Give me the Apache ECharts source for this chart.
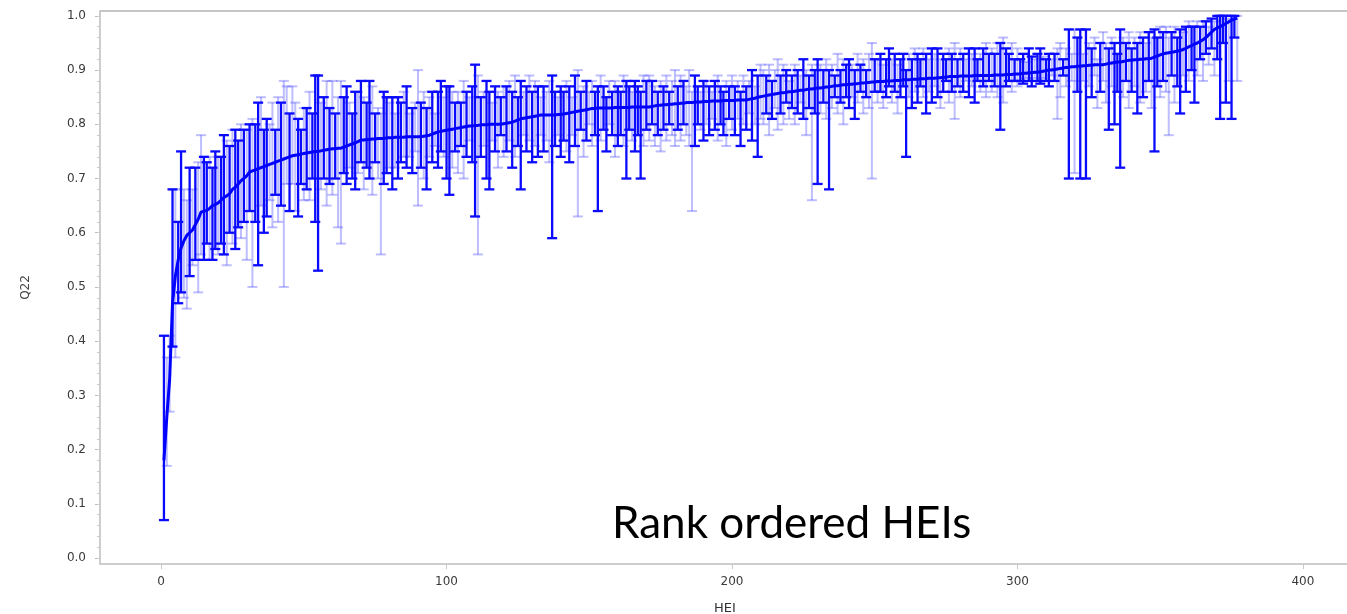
<!DOCTYPE html>
<html><head><meta charset="utf-8">
<script src="https://cdn.jsdelivr.net/npm/echarts@6/dist/echarts.min.js"></script>
<style>html,body{margin:0;padding:0;background:#fff}#c{width:1347px;height:614px}</style>
</head><body><div id="c"></div>
<script>
// Rank-ordered HEI mean scores (Q22) with lower/upper confidence limits
const means = [0.180,0.260,0.330,0.470,0.520,0.550,0.572,0.585,0.595,0.600,
0.605,0.615,0.625,0.638,0.640,0.641,0.645,0.650,0.652,0.655,
0.660,0.665,0.668,0.672,0.680,0.684,0.690,0.696,0.700,0.705,
0.712,0.714,0.716,0.718,0.720,0.722,0.724,0.726,0.728,0.730,
0.732,0.734,0.736,0.738,0.740,0.742,0.743,0.744,0.745,0.746,
0.747,0.748,0.749,0.750,0.750,0.751,0.752,0.753,0.754,0.755,
0.755,0.756,0.756,0.758,0.760,0.762,0.764,0.766,0.768,0.771,
0.771,0.772,0.772,0.773,0.773,0.774,0.774,0.774,0.775,0.775,
0.775,0.776,0.776,0.776,0.776,0.777,0.777,0.777,0.777,0.777,
0.777,0.778,0.779,0.780,0.782,0.784,0.786,0.787,0.788,0.789,
0.790,0.791,0.792,0.793,0.794,0.795,0.796,0.797,0.797,0.798,
0.798,0.799,0.799,0.799,0.800,0.800,0.800,0.800,0.800,0.801,
0.802,0.803,0.804,0.806,0.808,0.810,0.811,0.812,0.813,0.814,
0.815,0.816,0.817,0.817,0.817,0.817,0.817,0.817,0.818,0.818,
0.819,0.820,0.821,0.822,0.823,0.824,0.825,0.826,0.827,0.828,
0.829,0.829,0.830,0.830,0.830,0.830,0.830,0.830,0.831,0.831,
0.831,0.831,0.831,0.831,0.832,0.832,0.832,0.832,0.832,0.832,
0.832,0.833,0.834,0.835,0.835,0.836,0.836,0.837,0.837,0.838,
0.838,0.839,0.839,0.840,0.840,0.840,0.841,0.841,0.841,0.842,
0.842,0.842,0.843,0.843,0.843,0.843,0.844,0.844,0.844,0.844,
0.844,0.845,0.845,0.845,0.845,0.846,0.847,0.848,0.850,0.851,
0.852,0.853,0.854,0.855,0.856,0.857,0.858,0.858,0.859,0.860,
0.860,0.861,0.862,0.863,0.863,0.864,0.865,0.865,0.866,0.867,
0.867,0.868,0.869,0.869,0.870,0.871,0.871,0.872,0.873,0.873,
0.874,0.874,0.875,0.875,0.876,0.876,0.877,0.877,0.878,0.878,
0.879,0.879,0.879,0.880,0.880,0.880,0.881,0.881,0.881,0.882,
0.882,0.882,0.883,0.883,0.883,0.884,0.884,0.884,0.885,0.885,
0.885,0.886,0.886,0.887,0.887,0.888,0.888,0.888,0.888,0.889,
0.889,0.889,0.889,0.889,0.890,0.890,0.890,0.890,0.890,0.890,
0.890,0.891,0.891,0.891,0.891,0.892,0.892,0.892,0.893,0.893,
0.893,0.894,0.894,0.895,0.895,0.896,0.896,0.897,0.898,0.899,
0.900,0.900,0.901,0.902,0.903,0.904,0.905,0.905,0.906,0.906,
0.907,0.907,0.908,0.908,0.909,0.909,0.910,0.910,0.910,0.910,
0.911,0.912,0.913,0.914,0.915,0.915,0.916,0.917,0.918,0.918,
0.919,0.919,0.920,0.920,0.921,0.921,0.922,0.924,0.926,0.928,
0.930,0.931,0.932,0.933,0.934,0.935,0.936,0.938,0.940,0.943,
0.945,0.948,0.950,0.953,0.956,0.960,0.965,0.970,0.975,0.978,
0.980,0.983,0.986,0.989,0.992,0.994,0.996];

const lows = [.07,.17,.27,.39,.37,.47,.49,.48,.46,.52,
.54,.55,.49,.56,.55,.58,.55,.55,.57,.56,
.58,.56,.54,.60,.58,.57,.61,.59,.62,.55,
.64,.50,.62,.54,.65,.60,.63,.66,.61,.67,
.62,.65,.50,.69,.64,.69,.64,.63,.69,.66,
.68,.66,.70,.62,.53,.68,.70,.65,.69,.67,
.70,.61,.58,.71,.69,.72,.70,.68,.71,.73,
.68,.72,.70,.67,.73,.70,.56,.69,.71,.72,
.68,.72,.70,.73,.74,.72,.74,.71,.75,.65,
.72,.70,.68,.74,.73,.76,.72,.75,.74,.70,
.67,.72,.75,.71,.76,.70,.74,.77,.73,.63,
.56,.74,.76,.70,.68,.77,.75,.72,.78,.74,
.75,.77,.72,.74,.76,.68,.78,.75,.77,.73,
.76,.74,.78,.75,.77,.73,.59,.76,.78,.74,
.77,.75,.73,.78,.76,.63,.79,.74,.77,.80,
.76,.78,.64,.77,.79,.75,.80,.78,.74,.76,
.78,.76,.70,.79,.77,.75,.78,.70,.76,.79,
.77,.80,.76,.78,.75,.79,.77,.80,.78,.76,
.79,.77,.80,.78,.76,.64,.76,.80,.79,.77,
.80,.78,.81,.79,.77,.80,.78,.76,.81,.79,
.78,.81,.76,.80,.79,.82,.77,.80,.74,.81,
.80,.82,.78,.81,.83,.79,.82,.80,.84,.81,
.83,.80,.82,.84,.81,.78,.83,.66,.82,.69,
.82,.84,.81,.68,.83,.85,.82,.84,.80,.85,
.83,.85,.81,.84,.86,.82,.85,.83,.70,.86,
.84,.86,.83,.85,.87,.84,.86,.82,.85,.87,
.74,.85,.83,.86,.84,.87,.85,.82,.86,.84,
.87,.85,.83,.86,.88,.84,.86,.81,.87,.85,
.86,.88,.85,.87,.84,.88,.86,.87,.85,.88,
.86,.87,.85,.79,.84,.87,.88,.86,.88,.87,
.88,.875,.885,.88,.87,.885,.88,.875,.885,.88,
.87,.89,.88,.81,.85,.89,.87,.70,.88,.71,
.86,.70,.88,.70,.87,.85,.89,.83,.86,.88,
.84,.79,.87,.80,.86,.72,.85,.88,.83,.86,
.87,.82,.84,.85,.86,.88,.83,.75,.87,.85,
.88,.86,.78,.89,.84,.87,.82,.89,.86,.88,
.90,.84,.89,.92,.88,.93,.91,.94,.89,.92,
.81,.95,.84,.88,.81,.96,.88];

const highs = [.41,.37,.41,.68,.68,.62,.75,.68,.66,.72,
.68,.72,.73,.78,.74,.73,.74,.72,.75,.74,
.74,.78,.77,.76,.79,.79,.77,.80,.79,.79,
.80,.81,.80,.84,.85,.79,.81,.80,.84,.79,
.85,.84,.88,.87,.82,.87,.84,.81,.79,.83,
.83,.86,.82,.89,.89,.84,.85,.88,.83,.88,
.82,.85,.88,.85,.87,.84,.82,.86,.86,.88,
.85,.84,.88,.87,.82,.83,.82,.86,.85,.84,
.85,.82,.85,.84,.86,.87,.82,.83,.84,.90,
.84,.86,.83,.85,.86,.82,.86,.88,.85,.87,
.87,.86,.84,.86,.84,.88,.86,.85,.87,.91,
.89,.85,.86,.88,.86,.84,.87,.86,.85,.87,
.87,.88,.86,.89,.85,.88,.86,.87,.89,.86,
.88,.87,.85,.87,.86,.88,.89,.86,.85,.87,
.86,.88,.87,.85,.89,.90,.86,.87,.88,.86,
.88,.86,.87,.89,.87,.85,.88,.86,.88,.87,
.86,.89,.88,.87,.86,.88,.87,.86,.89,.88,
.89,.88,.87,.86,.88,.87,.89,.86,.88,.90,
.87,.89,.88,.87,.90,.86,.89,.87,.86,.88,
.88,.87,.86,.88,.89,.87,.86,.88,.87,.89,
.87,.88,.86,.89,.87,.88,.90,.87,.89,.91,
.90,.89,.91,.88,.90,.92,.89,.91,.90,.88,
.89,.91,.90,.89,.92,.90,.89,.91,.90,.92,
.91,.90,.92,.90,.91,.89,.93,.90,.92,.91,
.92,.91,.90,.93,.91,.92,.90,.93,.95,.92,
.92,.93,.91,.92,.94,.92,.93,.91,.92,.93,
.90,.93,.92,.94,.93,.92,.94,.93,.92,.94,
.93,.94,.92,.93,.92,.94,.93,.95,.92,.94,
.93,.92,.94,.93,.94,.92,.93,.94,.95,.93,
.94,.93,.95,.95,.96,.94,.93,.95,.92,.94,
.92,.93,.915,.94,.925,.92,.93,.94,.925,.92,
.93,.92,.93,.94,.95,.92,.94,.975,.93,.975,
.96,.975,.93,.975,.95,.94,.96,.92,.95,.97,
.95,.94,.96,.95,.93,.975,.96,.95,.97,.94,
.96,.95,.97,.96,.95,.97,.96,.975,.96,.98,
.97,.98,.96,.97,.98,.96,.975,.97,.98,.99,
.98,.98,.99,.98,.99,.99,.98,.995,.99,1.0,
1.0,1.0,1.0,.995,1.0,1.0,1.0];

// 1 = bar drawn in solid blue, 0 = faint bar
const solid = [1,0,0,1,0,1,1,0,0,1, 0,1,0,0,1,1,0,1,1,0, 1,1,0,1,0,1,1,0,1,0,
1,0,1,1,0,1,1,0,0,1, 0,1,0,0,1,0,0,1,1,0, 1,0,1,1,1,0,1,0,1,0,
1,0,0,1,1,0,1,1,0,1, 0,1,1,0,1,0,0,1,1,0, 1,0,1,1,0,1,0,1,0,0,
1,0,1,0,1,0,1,1,0,1, 1,0,1,0,1,0,1,0,1,1, 0,1,0,1,1,0,1,0,1,0,
1,0,1,0,1,1,0,1,0,1, 0,1,0,1,0,0,1,1,0,1, 1,0,1,0,1,0,1,0,1,0,
0,1,1,0,1,1,0,1,0,1, 1,0,1,1,0,1,1,1,0,1, 0,1,0,1,0,1,0,1,0,0,
1,0,1,0,0,0,1,1,0,1, 0,1,0,1,0,1,1,0,1,0, 1,0,1,0,1,0,1,0,1,0,
0,1,0,1,0,0,1,0,1,0, 1,0,1,0,1,0,1,0,1,1, 0,1,0,1,0,1,0,1,0,1,
1,0,1,0,1,0,1,0,0,1, 0,1,0,1,1,0,1,0,1,1, 1,0,1,0,1,1,0,1,0,1,
0,1,0,1,1,0,1,0,1,0, 1,0,1,0,1,1,0,1,0,1, 0,1,0,1,0,1,1,0,1,0,
1,1,0,1,1,0,1,1,0,1, 1,0,1,0,0,1,0,1,0,0, 1,1,0,1,0,1,0,0,1,0,
0,1,0,1,1,1,0,1,0,1, 0,1,0,1,0,1,0,1,1,0, 1,0,0,1,0,1,1,0,1,0,
1,1,0,1,0,1,0,1,0,1, 1,1,1,0,1,1,0];

const xTicks = [0, 100, 200, 300, 400];
const yTicks = [0, 0.1, 0.2, 0.3, 0.4, 0.5, 0.6, 0.7, 0.8, 0.9, 1.0];
const yMinorTicks = [];
for (let i = 0; i <= 50; i++) yMinorTicks.push(+(i * 0.02).toFixed(2));

const rows = means.map((m, i) => [i + 1, lows[i], highs[i], m, solid[i]]);
const solidRows = rows.filter(r => r[4] === 1);
const faintRows = rows.filter(r => r[4] === 0);

function makeRender(color, lw) {
  return function (params, api) {
    const x = api.value(0);
    const lo = api.coord([x, api.value(1)]);
    const hi = api.coord([x, api.value(2)]);
    const hw = 5;
    const st = { stroke: color, lineWidth: lw };
    return {
      type: 'group',
      children: [
        { type: 'line', shape: { x1: lo[0], y1: lo[1], x2: hi[0], y2: hi[1] }, style: st },
        { type: 'line', shape: { x1: lo[0] - hw, y1: lo[1], x2: lo[0] + hw, y2: lo[1] }, style: st },
        { type: 'line', shape: { x1: hi[0] - hw, y1: hi[1], x2: hi[0] + hw, y2: hi[1] }, style: st }
      ]
    };
  };
}

const labelStyle = { color: '#3a3a3a', fontSize: 12, fontFamily: 'DejaVu Sans' };
const chart = echarts.init(document.getElementById('c'), null, { renderer: 'canvas' });
chart.setOption({
  animation: false,
  backgroundColor: '#fff',
  grid: { left: 100, right: -3, top: 11, bottom: 50, outerBoundsMode: 'none', containLabel: false, show: true, borderColor: '#b4b4b4', borderWidth: 1.5, backgroundColor: 'transparent' },
  xAxis: [{
    type: 'value', min: -21.4, max: 416.5,
    name: 'HEI', nameLocation: 'middle', nameGap: 38,
    nameTextStyle: { color: '#333', fontSize: 13, fontFamily: 'DejaVu Sans' },
    axisLine: { show: true, onZero: false, lineStyle: { color: '#cfcfcf', width: 1.5 } },
    axisTick: { show: true, length: 5, customValues: xTicks, lineStyle: { color: '#c8c8c8' } },
    axisLabel: { customValues: xTicks, margin: 12, ...labelStyle },
    splitLine: { show: false }
  }],
  yAxis: [{
    type: 'value', min: -0.011, max: 1.009,
    name: 'Q22', nameLocation: 'middle', nameGap: 68, nameRotate: 90,
    nameTextStyle: { color: '#444', fontSize: 12, fontFamily: 'DejaVu Sans' },
    axisLine: { show: true, onZero: false, lineStyle: { color: '#cfcfcf', width: 1.5 } },
    axisTick: { show: true, length: 5, customValues: yTicks, lineStyle: { color: '#b8b8b8' } },
    axisLabel: { customValues: yTicks, margin: 14, formatter: v => v.toFixed(1), ...labelStyle },
    splitLine: { show: false }
  }, {
    type: 'value', min: -0.011, max: 1.009, position: 'left',
    axisLine: { show: false, onZero: false },
    axisTick: { show: true, length: 3, customValues: yMinorTicks, lineStyle: { color: '#cccccc' } },
    axisLabel: { show: false },
    splitLine: { show: false }
  }],
  series: [
    { type: 'custom', name: 'faint', data: faintRows, renderItem: makeRender('rgba(40,40,255,0.3)', 2), encode: { x: 0, y: [1, 2] }, z: 2 },
    { type: 'custom', name: 'solid', data: solidRows, renderItem: makeRender('#0a0aff', 2.3), encode: { x: 0, y: [1, 2] }, z: 3 },
    { type: 'line', name: 'mean', data: rows.map(r => [r[0], r[3]]), showSymbol: false, lineStyle: { color: '#0000ff', width: 3 }, z: 4 }
  ],
  graphic: [
    { type: 'rect', left: 590, top: 486, shape: { width: 403, height: 76 }, style: { fill: '#fff' }, z: 100 },
    { type: 'text', left: 612, top: 502, style: { text: 'Rank ordered HEIs', fill: '#000', font: '44px Lato' }, z: 101 }
  ]
});
</script></body></html>
